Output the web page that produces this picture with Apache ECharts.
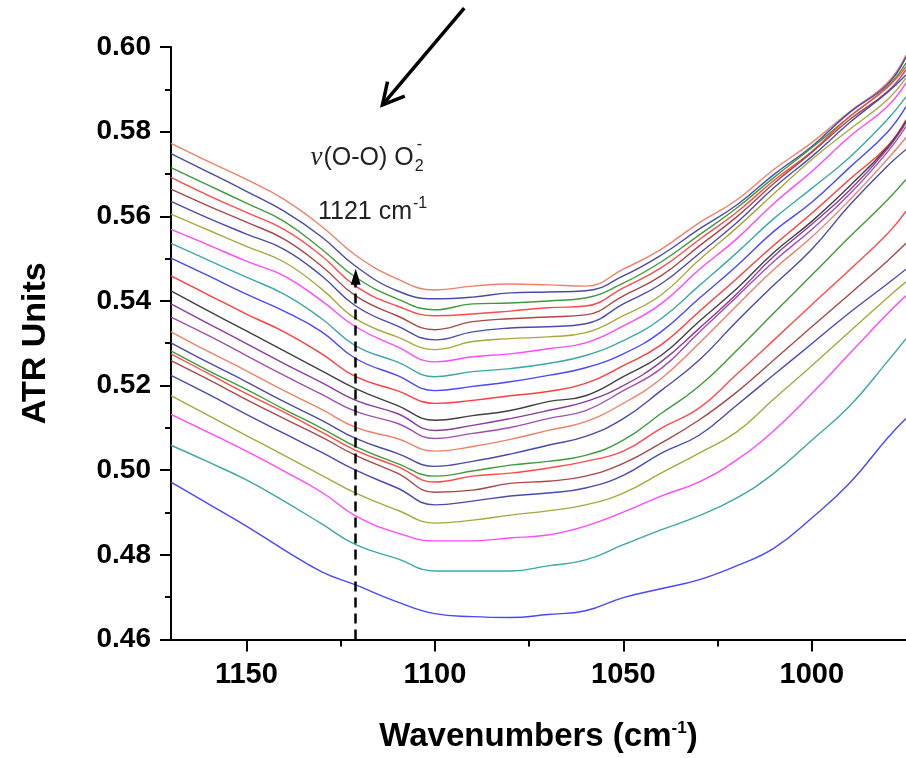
<!DOCTYPE html>
<html>
<head>
<meta charset="utf-8">
<script src="https://cdn.jsdelivr.net/npm/echarts@6/dist/echarts.min.js"></script>
<style>
  html, body { margin: 0; padding: 0; background: #fff; }
  #chart { width: 906px; height: 758px; }
</style>
</head>
<body>
<div id="chart"></div>
<script>
// wavenumber grid (cm-1) the spectra were read at
const wavenumbers = [1170, 1160, 1150, 1140, 1130, 1121, 1110, 1100, 1090, 1080, 1070, 1060, 1050, 1040, 1030, 1020, 1010, 1000, 990, 980, 975];

// ATR spectra, top to bottom
const spec01 = [0.5772, 0.5729, 0.5687, 0.5640, 0.5576, 0.5508, 0.5452, 0.5426, 0.5435, 0.5440, 0.5438, 0.5435, 0.5475, 0.5522, 0.5584, 0.5638, 0.5711, 0.5774, 0.5847, 0.5915, 0.5981];
const spec02 = [0.5748, 0.5704, 0.5659, 0.5612, 0.5551, 0.5482, 0.5424, 0.5405, 0.5409, 0.5419, 0.5421, 0.5424, 0.5459, 0.5508, 0.5569, 0.5626, 0.5699, 0.5765, 0.5845, 0.5911, 0.5976];
const spec03 = [0.5715, 0.5673, 0.5631, 0.5588, 0.5522, 0.5456, 0.5405, 0.5379, 0.5393, 0.5395, 0.5400, 0.5407, 0.5442, 0.5492, 0.5555, 0.5619, 0.5692, 0.5762, 0.5835, 0.5906, 0.5962];
const spec04 = [0.5692, 0.5649, 0.5609, 0.5569, 0.5506, 0.5435, 0.5388, 0.5365, 0.5369, 0.5376, 0.5384, 0.5388, 0.5431, 0.5478, 0.5544, 0.5609, 0.5685, 0.5753, 0.5835, 0.5904, 0.5953];
const spec05 = [0.5664, 0.5624, 0.5586, 0.5546, 0.5482, 0.5412, 0.5365, 0.5332, 0.5351, 0.5358, 0.5362, 0.5367, 0.5412, 0.5459, 0.5529, 0.5598, 0.5678, 0.5751, 0.5828, 0.5894, 0.5946];
const spec06 = [0.5635, 0.5595, 0.5558, 0.5522, 0.5459, 0.5388, 0.5341, 0.5308, 0.5327, 0.5336, 0.5339, 0.5346, 0.5393, 0.5440, 0.5511, 0.5584, 0.5668, 0.5741, 0.5821, 0.5892, 0.5934];
const spec07 = [0.5605, 0.5567, 0.5529, 0.5492, 0.5428, 0.5358, 0.5315, 0.5285, 0.5304, 0.5311, 0.5315, 0.5325, 0.5365, 0.5414, 0.5496, 0.5572, 0.5654, 0.5734, 0.5805, 0.5875, 0.5927];
const spec08 = [0.5569, 0.5532, 0.5494, 0.5459, 0.5400, 0.5339, 0.5292, 0.5256, 0.5268, 0.5275, 0.5287, 0.5301, 0.5341, 0.5393, 0.5473, 0.5546, 0.5631, 0.5706, 0.5788, 0.5859, 0.5915];
const spec09 = [0.5536, 0.5496, 0.5456, 0.5416, 0.5358, 0.5294, 0.5256, 0.5221, 0.5233, 0.5240, 0.5252, 0.5271, 0.5306, 0.5358, 0.5435, 0.5513, 0.5595, 0.5666, 0.5739, 0.5828, 0.5882];
const spec10 = [0.5501, 0.5459, 0.5416, 0.5376, 0.5327, 0.5264, 0.5224, 0.5188, 0.5198, 0.5209, 0.5224, 0.5242, 0.5275, 0.5327, 0.5405, 0.5482, 0.5565, 0.5633, 0.5715, 0.5798, 0.5859];
const spec11 = [0.5459, 0.5414, 0.5369, 0.5327, 0.5275, 0.5221, 0.5188, 0.5158, 0.5165, 0.5176, 0.5186, 0.5205, 0.5247, 0.5296, 0.5374, 0.5452, 0.5532, 0.5607, 0.5687, 0.5765, 0.5828];
const spec12 = [0.5424, 0.5376, 0.5329, 0.5282, 0.5235, 0.5193, 0.5153, 0.5118, 0.5129, 0.5141, 0.5162, 0.5176, 0.5221, 0.5271, 0.5351, 0.5428, 0.5515, 0.5588, 0.5671, 0.5762, 0.5824];
const spec13 = [0.5393, 0.5346, 0.5299, 0.5252, 0.5207, 0.5165, 0.5134, 0.5094, 0.5106, 0.5122, 0.5141, 0.5162, 0.5200, 0.5256, 0.5334, 0.5416, 0.5506, 0.5581, 0.5661, 0.5758, 0.5821];
const spec14 = [0.5362, 0.5318, 0.5271, 0.5224, 0.5179, 0.5139, 0.5111, 0.5075, 0.5087, 0.5101, 0.5122, 0.5141, 0.5188, 0.5240, 0.5325, 0.5409, 0.5494, 0.5569, 0.5652, 0.5751, 0.5812];
const spec15 = [0.5327, 0.5280, 0.5235, 0.5188, 0.5144, 0.5101, 0.5075, 0.5045, 0.5056, 0.5073, 0.5094, 0.5115, 0.5158, 0.5216, 0.5299, 0.5388, 0.5475, 0.5551, 0.5638, 0.5734, 0.5786];
const spec16 = [0.5301, 0.5254, 0.5209, 0.5162, 0.5118, 0.5075, 0.5040, 0.5009, 0.5021, 0.5038, 0.5059, 0.5080, 0.5122, 0.5188, 0.5259, 0.5351, 0.5438, 0.5522, 0.5626, 0.5718, 0.5758];
const spec17 = [0.5282, 0.5235, 0.5191, 0.5144, 0.5099, 0.5056, 0.5016, 0.4986, 0.4998, 0.5012, 0.5021, 0.5035, 0.5071, 0.5134, 0.5198, 0.5282, 0.5372, 0.5461, 0.5551, 0.5638, 0.5687];
const spec18 = [0.5275, 0.5228, 0.5181, 0.5137, 0.5090, 0.5047, 0.5009, 0.4972, 0.4986, 0.4993, 0.5005, 0.5021, 0.5045, 0.5099, 0.5146, 0.5226, 0.5308, 0.5391, 0.5473, 0.5558, 0.5612];
const spec19 = [0.5259, 0.5214, 0.5167, 0.5122, 0.5078, 0.5035, 0.4993, 0.4948, 0.4953, 0.4969, 0.4974, 0.4986, 0.5016, 0.5064, 0.5118, 0.5184, 0.5261, 0.5339, 0.5416, 0.5494, 0.5536];
const spec20 = [0.5224, 0.5179, 0.5132, 0.5087, 0.5042, 0.5000, 0.4958, 0.4918, 0.4927, 0.4939, 0.4946, 0.4958, 0.4988, 0.5040, 0.5082, 0.5153, 0.5226, 0.5299, 0.5372, 0.5440, 0.5475];
const spec21 = [0.5176, 0.5129, 0.5082, 0.5035, 0.4988, 0.4946, 0.4906, 0.4875, 0.4882, 0.4894, 0.4904, 0.4918, 0.4946, 0.4993, 0.5040, 0.5090, 0.5169, 0.5247, 0.5327, 0.5407, 0.5445];
const spec22 = [0.5132, 0.5089, 0.5045, 0.4998, 0.4948, 0.4892, 0.4852, 0.4833, 0.4833, 0.4840, 0.4847, 0.4868, 0.4901, 0.4939, 0.4972, 0.5024, 0.5094, 0.5181, 0.5275, 0.5369, 0.5412];
const spec23 = [0.5059, 0.5019, 0.4977, 0.4927, 0.4873, 0.4824, 0.4791, 0.4762, 0.4762, 0.4762, 0.4774, 0.4788, 0.4824, 0.4859, 0.4892, 0.4934, 0.4993, 0.5071, 0.5151, 0.5256, 0.5311];
const spec24 = [0.4972, 0.4920, 0.4868, 0.4812, 0.4760, 0.4729, 0.4689, 0.4661, 0.4654, 0.4652, 0.4659, 0.4668, 0.4699, 0.4720, 0.4741, 0.4774, 0.4816, 0.4887, 0.4969, 0.5075, 0.5122];

const spectra = [spec01, spec02, spec03, spec04, spec05, spec06, spec07, spec08, spec09, spec10, spec11, spec12,
                 spec13, spec14, spec15, spec16, spec17, spec18, spec19, spec20, spec21, spec22, spec23, spec24];

// Origin style colour cycle
const lineColors = ['#f0806a', '#4a4aa8', '#3c9c3c', '#ff4a4a', '#a84848', '#4a4ab0', '#a8a83c', '#ff48ff',
                    '#3ca8a8', '#4848ff', '#ff3c3c', '#404040', '#8c3c9c', '#a050b0', '#f0806a', '#4a4aa8',
                    '#3c9c3c', '#ff4a4a', '#a84848', '#4a4ab0', '#a8a83c', '#ff48ff', '#3ca8a8', '#4848ff'];

const xMajorTicks = [1000, 1050, 1100, 1150];
const xMinorTicks = [1025, 1075, 1125];

// annotation anchors in data units
const peakWavenumber = 1121;
const peakArrowTop = 0.5457;

const FONT = 'Liberation Sans, Arial, sans-serif';

const chart = echarts.init(document.getElementById('chart'));

const series = spectra.map((s, i) => ({
  type: 'line',
  data: wavenumbers.map((w, j) => [w, s[j]]),
  showSymbol: false,
  smooth: 0.45,
  lineStyle: { color: lineColors[i], width: 1.4 },
  itemStyle: { color: lineColors[i] },
  z: 2
}));

// dashed arrow marking the O-O stretch
series[series.length - 1].markLine = {
  silent: true,
  symbol: ['none', 'triangle'],
  symbolSize: [10, 16],
  label: { show: false },
  lineStyle: { color: '#000', width: 2.5, type: [10, 6] },
  data: [[{ coord: [peakWavenumber, 0.46] }, { coord: [peakWavenumber, peakArrowTop] }]]
};

const option = {
  animation: false,
  backgroundColor: '#fff',
  grid: { left: 171, right: 0, top: 47, bottom: 116, containLabel: false },
  xAxis: [
    {
      type: 'value',
      min: 975,
      max: 1170,
      inverse: true,
      name: '{t|Wavenumbers (cm}{s|-1}{t|)}',
      nameLocation: 'middle',
      nameGap: 80,
      nameTextStyle: {
        rich: {
          t: { fontFamily: FONT, fontWeight: 'bold', fontSize: 33, color: '#000', lineHeight: 34 },
          s: { fontFamily: FONT, fontWeight: 'bold', fontSize: 17, color: '#000', lineHeight: 34, verticalAlign: 'top', padding: [0, 0, 14, 0] }
        }
      },
      axisLine: { show: true, onZero: false, lineStyle: { color: '#000', width: 2 } },
      axisTick: { show: true, customValues: xMajorTicks, length: 12, lineStyle: { color: '#000', width: 2 } },
      axisLabel: { customValues: xMajorTicks, fontFamily: FONT, fontWeight: 'bold', fontSize: 29, color: '#000', margin: 21,
                   formatter: v => String(v) },
      splitLine: { show: false }
    },
    {
      type: 'value',
      min: 975,
      max: 1170,
      inverse: true,
      position: 'bottom',
      axisLine: { show: false },
      axisTick: { show: true, customValues: xMinorTicks, length: 7, lineStyle: { color: '#000', width: 2 } },
      axisLabel: { show: false },
      splitLine: { show: false }
    }
  ],
  yAxis: {
    type: 'value',
    min: 0.46,
    max: 0.60,
    interval: 0.02,
    name: 'ATR Units',
    nameLocation: 'middle',
    nameRotate: 90,
    nameGap: 118,
    nameTextStyle: { fontFamily: FONT, fontWeight: 'bold', fontSize: 34, color: '#000' },
    axisLine: { show: true, onZero: false, lineStyle: { color: '#000', width: 2 } },
    axisTick: { show: true, length: 11, lineStyle: { color: '#000', width: 2 } },
    minorTick: { show: true, splitNumber: 2, length: 6, lineStyle: { color: '#000', width: 2 } },
    axisLabel: { fontFamily: FONT, fontWeight: 'bold', fontSize: 28, color: '#000', margin: 20,
                 formatter: v => v.toFixed(2) },
    splitLine: { show: false }
  },
  series: series
};

chart.setOption(option);

// text and arrow annotations, anchored in data coordinates
const px = (w, v) => chart.convertToPixel({ xAxisIndex: 0, yAxisIndex: 0 }, [w, v]);

function textWidth(str, font) {
  const ctx = document.createElement('canvas').getContext('2d');
  ctx.font = font;
  return ctx.measureText(str).width;
}

const tail = px(1092.2, 0.6092);
const tip = px(1113.9, 0.5863);
const dx = tip[0] - tail[0], dy = tip[1] - tail[1];
const len = Math.sqrt(dx * dx + dy * dy);
const ux = dx / len, uy = dy / len;
const headLen = 24, headAng = 28 * Math.PI / 180;
const arm = a => [tip[0] - headLen * (ux * Math.cos(a) - uy * Math.sin(a)),
                  tip[1] - headLen * (uy * Math.cos(a) + ux * Math.sin(a))];

const lab1 = px(1133.0, 0.5738);
const nuFont = 'italic 27px "Liberation Serif", serif';
const txtFont = '25px "Liberation Sans", Arial, sans-serif';
const smallFont = '16px "Liberation Sans", Arial, sans-serif';
const nuW = textWidth('ν', nuFont);
const bodyW = textWidth('(O-O) O', txtFont);

const lab2 = px(1131.0, 0.5609);
const numW = textWidth('1121 cm', txtFont);

chart.setOption({
  graphic: [
    { type: 'line', silent: true, shape: { x1: tail[0], y1: tail[1], x2: tip[0], y2: tip[1] },
      style: { stroke: '#000', lineWidth: 3.5 } },
    { type: 'polyline', silent: true, shape: { points: [arm(headAng), tip, arm(-headAng)] },
      style: { stroke: '#000', lineWidth: 3.5, fill: null, lineJoin: 'miter' } },
    { type: 'text', silent: true, x: lab1[0], y: lab1[1],
      style: { text: 'ν', font: nuFont, fill: '#222', align: 'left', verticalAlign: 'middle' } },
    { type: 'text', silent: true, x: lab1[0] + nuW + 1, y: lab1[1],
      style: { text: '(O-O) O', font: txtFont, fill: '#222', align: 'left', verticalAlign: 'middle' } },
    { type: 'text', silent: true, x: lab1[0] + nuW + bodyW + 2, y: lab1[1] + 9,
      style: { text: '2', font: smallFont, fill: '#222', align: 'left', verticalAlign: 'middle' } },
    { type: 'text', silent: true, x: lab1[0] + nuW + bodyW + 4, y: lab1[1] - 13,
      style: { text: '-', font: smallFont, fill: '#222', align: 'left', verticalAlign: 'middle' } },
    { type: 'text', silent: true, x: lab2[0], y: lab2[1],
      style: { text: '1121 cm', font: txtFont, fill: '#222', align: 'left', verticalAlign: 'middle' } },
    { type: 'text', silent: true, x: lab2[0] + numW + 1, y: lab2[1] - 9,
      style: { text: '-1', font: smallFont, fill: '#222', align: 'left', verticalAlign: 'middle' } }
  ]
});
</script>
</body>
</html>
